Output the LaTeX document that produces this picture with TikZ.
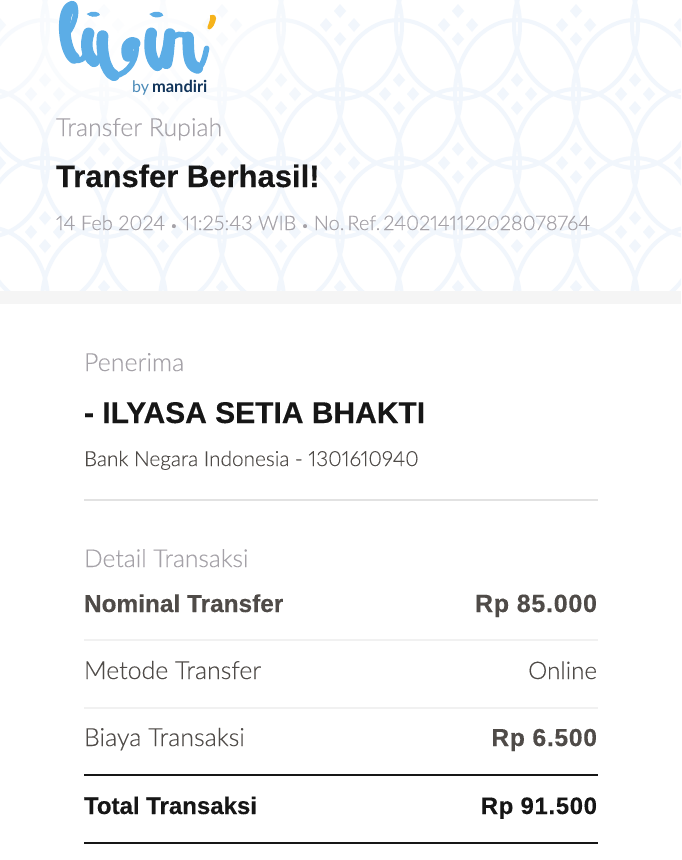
\documentclass[tikz,border=0pt]{standalone}
\usepackage{fontspec}
\usetikzlibrary{fadings}
\setmainfont{Lato Light}[Numbers=Proportional,FakeBold=0.2]
\newfontfamily\heavyfont{Liberation Sans Bold}[FakeBold=0.25]
\newfontfamily\valuefont{Liberation Sans Bold}[FakeBold=0.25,LetterSpace=3]
\newfontfamily\logofont{Lato}
\definecolor{petal}{HTML}{F1F6FC}
\definecolor{stripgray}{HTML}{F5F5F5}
\definecolor{hairgray}{HTML}{E2E2E2}
\definecolor{softgray}{HTML}{F1F1F1}
\definecolor{mutedtxt}{HTML}{A5A2A8}
\definecolor{darktxt}{HTML}{4F4B48}
\definecolor{inktxt}{HTML}{161616}
\definecolor{logoblue}{HTML}{5CADE6}
\definecolor{logonavy}{HTML}{12355B}
\definecolor{logoyellow}{HTML}{F6B31B}
\tikzfading[name=logofade,inner color=transparent!0,outer color=transparent!100]
\tikzset{
  every node/.style={inner sep=0pt,outer sep=0pt},
  lefttxt/.style={anchor=base west},
  righttxt/.style={anchor=base east},
  fat/.style={line width=11.5pt,logoblue,line cap=round,line join=round},
  thin/.style={line width=5.5pt,logoblue,line cap=round,line join=round},
}
\newcommand{\kawung}[2]{%
  \draw[petal,line width=4pt] (#1,#2) ellipse [x radius=62,y radius=74];
  \foreach \dx/\dy in {-14/0,14/0,0/-14,0/14}
    \fill[petal] (#1+\dx-6,#2+\dy) -- (#1+\dx,#2+\dy-7) -- (#1+\dx+6,#2+\dy) -- (#1+\dx,#2+\dy+7) -- cycle;
}
\newcommand{\sepdot}{\hspace{5pt}{\fontsize{13}{13}\selectfont •}\hspace{5pt}}
\begin{document}
\begin{tikzpicture}[x=1pt,y=-1pt]
  \useasboundingbox (0,0) rectangle (681,860);
  \fill[white] (0,0) rectangle (681,860);
  \begin{scope}
    \clip (0,0) rectangle (681,291);
    \foreach \i in {-4,...,2} {
      \kawung{458+118*\i}{25}
      \kawung{399+118*\i+118}{94}
      \kawung{458+118*\i}{163}
      \kawung{399+118*\i+118}{232}
      \kawung{458+118*\i}{301}
    }
    \fill[white,path fading=logofade] (135,45) ellipse [x radius=210,y radius=130];
  \end{scope}
  \fill[stripgray] (0,291) rectangle (681,304);
  % logo
  \begin{scope}[shift={(50,0)},scale=1/3]
    \draw[fat] (66,20) .. controls (32,30) and (40,150) .. (72,174);
    \draw[thin] (66,12) .. controls (88,20) and (74,75) .. (52,100);
    \draw[thin] (72,176) .. controls (90,190) and (105,175) .. (110,150);
    \draw[fat] (116,100) .. controls (106,130) and (108,165) .. (132,184);
    \draw[thin] (134,186) .. controls (147,188) and (154,165) .. (158,118);
    \draw[fat] (158,108) .. controls (152,150) and (166,216) .. (192,226);
    \draw[thin] (192,228) .. controls (240,222) and (264,170) .. (258,132);
    \draw[fat] (254,130) .. controls (235,122) and (226,145) .. (234,168);
    \draw[fat] (304,100) .. controls (296,130) and (299,180) .. (322,196);
    \draw[thin] (322,198) .. controls (335,190) and (345,150) .. (352,110);
    \draw[fat] (360,102) .. controls (356,130) and (356,165) .. (349,190);
    \draw[thin] (358,125) .. controls (375,100) and (400,95) .. (412,115);
    \draw[fat] (414,112) .. controls (416,150) and (412,196) .. (442,204);
    \draw[thin] (442,206) .. controls (458,200) and (465,170) .. (470,145);
    \fill[logoblue] (110,42) .. controls (125,30) and (150,35) .. (150,45) .. controls (135,55) and (120,50) .. cycle;
    \fill[logoblue] (298,42) .. controls (315,30) and (340,35) .. (340,47) .. controls (325,55) and (310,55) .. cycle;
    \fill[logoyellow] (480,46) .. controls (495,40) and (502,50) .. (496,65) .. controls (490,85) and (478,92) .. (473,86) .. controls (470,75) and (482,70) .. cycle;
  \end{scope}
  \node[lefttxt,text=logoblue!80!black] (logoby) at (132,92.5) {\logofont\fontsize{16}{16}\selectfont by};
  \node[lefttxt,text=logonavy] (logomandiri) at (152,92.5) {\logofont\fontsize{16.5}{16}\selectfont\bfseries mandiri};
  % header
  \node[lefttxt,text=mutedtxt] (service) at (56,136) {\fontsize{24.9}{24}\selectfont Transfer Rupiah};
  \node[lefttxt,text=inktxt] (status) at (56,187) {\heavyfont\fontsize{31}{31}\selectfont Transfer Berhasil!};
  \node[lefttxt,text=mutedtxt] (stamp) at (56,230) {\fontsize{20}{20}\selectfont 14 Feb 2024\sepdot 11:25:43 WIB\sepdot No.\hspace{3pt}Ref.\hspace{3pt}2402141122028078764};
  % penerima
  \node[lefttxt,text=mutedtxt] (penerima) at (84,371) {\fontsize{25}{23}\selectfont Penerima};
  \node[lefttxt,text=inktxt] (payee) at (84,423) {\heavyfont\fontsize{30}{30}\selectfont - ILYASA SETIA BHAKTI};
  \node[lefttxt,text=darktxt] (bank) at (84,466) {\fontsize{20.8}{20}\selectfont Bank Negara Indonesia - 1301610940};
  % detail
  \node[lefttxt,text=mutedtxt] (detail) at (84,567) {\fontsize{24.6}{23}\selectfont Detail Transaksi};
  \node[lefttxt,text=darktxt] (nominal) at (84,612) {\heavyfont\fontsize{24.4}{23}\selectfont Nominal Transfer};
  \node[righttxt,text=darktxt] (nominalval) at (597,612) {\valuefont\fontsize{25}{23}\selectfont Rp 85.000};
  \node[lefttxt,text=darktxt] (metode) at (84,679) {\fontsize{24.9}{23}\selectfont Metode Transfer};
  \node[righttxt,text=darktxt] (metodeval) at (597,679) {\fontsize{24.2}{23}\selectfont Online};
  \node[lefttxt,text=darktxt] (biaya) at (84,746) {\fontsize{25}{23}\selectfont Biaya Transaksi};
  \node[righttxt,text=darktxt] (biayaval) at (597,746) {\valuefont\fontsize{24.6}{23}\selectfont Rp 6.500};
  \node[lefttxt,text=inktxt] (total) at (84,814) {\heavyfont\fontsize{24}{23}\selectfont Total Transaksi};
  \node[righttxt,text=inktxt] (totalval) at (597,814) {\valuefont\fontsize{23.8}{23}\selectfont Rp 91.500};
  % rules
  \foreach \n/\y in {a/500,b/640,c/708,d/775,e/843} {
    \coordinate (rule\n l) at (84,\y);
    \coordinate (rule\n r) at (598,\y);
  }
  \draw[hairgray,line width=1.5pt] (ruleal) -- (rulear);
  \draw[softgray,line width=1.5pt] (rulebl) -- (rulebr);
  \draw[softgray,line width=1.5pt] (rulecl) -- (rulecr);
  \draw[inktxt,line width=1.8pt] (ruledl) -- (ruledr);
  \draw[inktxt,line width=1.8pt] (ruleel) -- (ruleer);
\end{tikzpicture}
\end{document}
